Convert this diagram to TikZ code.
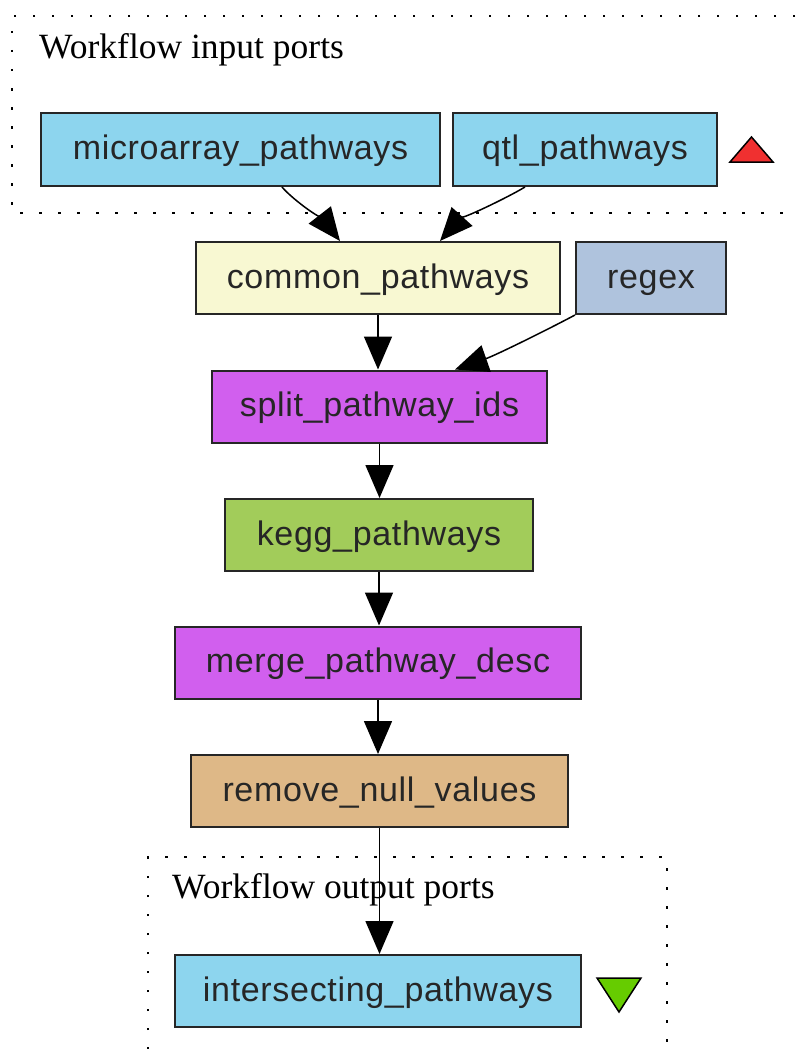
\documentclass[tikz,border=0pt]{standalone}
\usepackage{fontspec}
\usetikzlibrary{arrows.meta,calc}
\newfontfamily\boxfont[LetterSpace=2]{Liberation Sans}
\newfontfamily\lblfont{Liberation Serif}
\definecolor{portblue}{HTML}{8DD5EE}
\definecolor{cream}{HTML}{F8F8D2}
\definecolor{steel}{HTML}{AFC3DD}
\definecolor{orchid}{HTML}{D15FEE}
\definecolor{olive}{HTML}{A2CC5A}
\definecolor{burly}{HTML}{DEB887}
\definecolor{trired}{HTML}{F03030}
\definecolor{trigreen}{HTML}{66CC00}
\begin{document}
\begin{tikzpicture}[x=1pt,y=-1pt,
  box/.style={draw=black!85,line width=2pt,rectangle,minimum height=72pt,inner sep=0pt,
    text height=26pt,text depth=6pt,
    font=\boxfont\fontsize{34}{40}\selectfont,text=black!85},
  edge/.style={line width=1.5pt,-{Triangle[length=33pt,width=28pt]}},
  frame/.style={line width=2.2pt,dash pattern=on 2.5pt off 16.5pt},
  lbl/.style={font=\lblfont\fontsize{35.5}{40}\selectfont,anchor=west,inner sep=0pt}]
\useasboundingbox (0,0) rectangle (795,1049);
% clusters
\draw[frame] (795,16) -- (12,16) -- (12,213) -- (795,213);
\draw[frame] (148,1049) -- (148,857) -- (667,857) -- (667,1049);
\node[lbl] (inlbl) at (39,50) {Workflow input ports};
\node[lbl] (outlbl) at (172,890) {Workflow output ports};
% nodes
\node[box,fill=portblue,minimum width=399pt,minimum height=73pt] (micro) at (240.5,149.5) {microarray\_pathways};
\node[box,fill=portblue,minimum width=264pt,minimum height=73pt] (qtl) at (585,149.5) {qtl\_pathways};
\node[box,fill=cream,minimum width=364pt] (common) at (378,278) {common\_pathways};
\node[box,fill=steel,minimum width=150pt] (regex) at (651,278) {regex};
\node[box,fill=orchid,minimum width=335pt] (split) at (379.5,406.5) {split\_pathway\_ids};
\node[box,fill=olive,minimum width=308pt] (kegg) at (379,535) {kegg\_pathways};
\node[box,fill=orchid,minimum width=406pt] (merge) at (378,662.5) {merge\_pathway\_desc};
\node[box,fill=burly,minimum width=377pt] (remove) at (379.5,791) {remove\_null\_values};
\node[box,fill=portblue,minimum width=406pt] (inter) at (378,991) {intersecting\_pathways};
% triangles
\draw[line width=1.5pt,fill=trired] (730,162) -- (773,162) -- (751.5,137) -- cycle;
\draw[line width=1.5pt,fill=trigreen] (597,978) -- (641,978) -- (619,1012) -- cycle;
% edges
\draw[edge] ([xshift=41.5pt]micro.south) .. controls +(12,14) and +(-14,-18) .. ([xshift=-38pt]common.north);
\draw[edge] ([xshift=-60pt]qtl.south) .. controls +(-20,12) and +(18,-20) .. ([xshift=62pt]common.north);
\draw[edge] (common.south) -- (common.south |- split.north);
\draw[edge] (regex.south west) .. controls +(-30,16) and +(40,-14) .. ([xshift=75.5pt]split.north);
\draw[edge] (split.south) -- (split.south |- kegg.north);
\draw[edge] (kegg.south) -- (kegg.south |- merge.north);
\draw[edge] (merge.south) -- (merge.south |- remove.north);
\draw[edge] (remove.south) -- (remove.south |- inter.north);
\end{tikzpicture}
\end{document}
